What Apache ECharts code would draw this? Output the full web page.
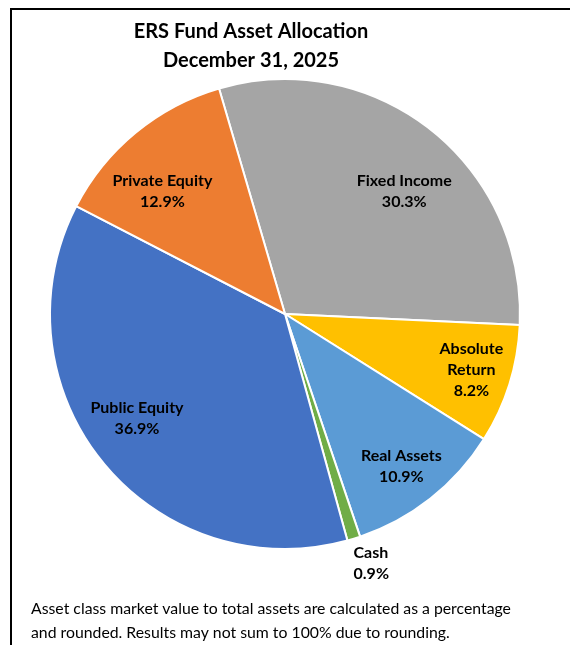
<!DOCTYPE html>
<html>
<head>
    <meta charset="utf-8">
    <script src="https://cdn.jsdelivr.net/npm/echarts@6/dist/echarts.min.js"></script>
    <style>
        html, body { margin: 0; padding: 0; background: #fff; }
        #main { width: 570px; height: 645px; }
    </style>
</head>
<body>
    <div id="main"></div>
    <script type="text/javascript">
        // asset classes, clockwise from the top
        var categories = ['Fixed Income', 'Absolute Return', 'Real Assets', 'Cash', 'Public Equity', 'Private Equity'];
        var labelNames = ['Fixed Income', 'Absolute\nReturn', 'Real Assets', 'Cash', 'Public Equity', 'Private Equity'];
        var values = [30.3, 8.2, 10.9, 0.9, 36.9, 12.9];
        var colors = ['#A5A5A5', '#FFC000', '#5B9BD5', '#70AD47', '#4472C4', '#ED7D31'];
        // small nudges of the data labels (Excel "best fit" placement)
        var labelOffsets = [[3, 25], [7, 0], [0, 5], [-7, 19], [-2, -14], [-3, 22]];

        var font = 'Lato, Carlito, Calibri, sans-serif';
        var center = [285, 314];
        var startAngle = 106.3;

        var mainData = categories.map(function (c, i) {
            var d = { name: c, value: values[i], itemStyle: { color: colors[i] } };
            if (c === 'Cash') {
                d.label = {
                    show: true,
                    position: 'outside',
                    offset: labelOffsets[i],
                    formatter: labelNames[i] + '\n' + values[i].toFixed(1) + '%'
                };
            }
            return d;
        });

        // transparent copy with a larger radius, only used to place the inside labels further out
        var labelData = categories.map(function (c, i) {
            return {
                name: c,
                value: values[i],
                label: {
                    show: c !== 'Cash',
                    offset: labelOffsets[i],
                    formatter: labelNames[i] + '\n' + values[i].toFixed(1) + '%'
                }
            };
        });

        var labelStyle = {
            fontFamily: font,
            fontSize: 16,
            fontWeight: 'bold',
            color: '#000',
            lineHeight: 21
        };

        var myChart = echarts.init(document.getElementById('main'));
        myChart.setOption({
            animation: false,
            title: {
                text: 'ERS Fund Asset Allocation\nDecember 31, 2025',
                left: 246,
                top: 12,
                textAlign: 'center',
                textStyle: { fontFamily: font, fontSize: 20, fontWeight: 'bold', color: '#000', lineHeight: 29 }
            },
            graphic: [
                {
                    type: 'rect',
                    shape: { x: 11, y: 9, width: 600, height: 700 },
                    style: { fill: 'none', stroke: '#000', lineWidth: 2 },
                    silent: true
                },
                {
                    type: 'text',
                    left: 31,
                    top: 597,
                    style: {
                        text: 'Asset class market value to total assets are calculated as a percentage\nand rounded. Results may not sum to 100% due to rounding.',
                        font: '15.8px ' + font,
                        fill: '#000',
                        lineHeight: 24
                    }
                }
            ],
            series: [
                {
                    type: 'pie',
                    center: center,
                    radius: 235,
                    startAngle: startAngle,
                    clockwise: true,
                    data: mainData,
                    itemStyle: { borderColor: '#fff', borderWidth: 2 },
                    label: Object.assign({ show: false, align: 'center' }, labelStyle),
                    labelLine: { show: false, length: 6, length2: 0 },
                    emphasis: { disabled: true }
                },
                {
                    type: 'pie',
                    center: center,
                    radius: 370,
                    startAngle: startAngle,
                    clockwise: true,
                    silent: true,
                    data: labelData,
                    itemStyle: { color: 'rgba(0,0,0,0)' },
                    label: Object.assign({ position: 'inside' }, labelStyle),
                    labelLine: { show: false },
                    emphasis: { disabled: true }
                }
            ]
        });
    </script>
</body>
</html>
